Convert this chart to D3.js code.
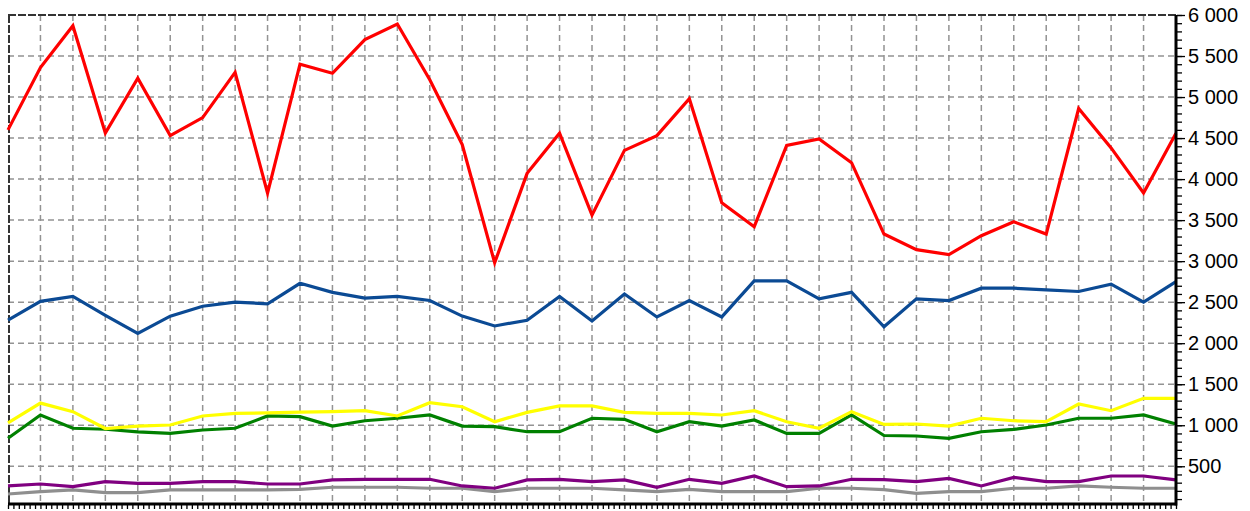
<!DOCTYPE html>
<html>
<head>
<meta charset="utf-8">
<script src="https://cdn.jsdelivr.net/npm/d3@7"></script>
<style>
  body { margin: 0; background: #fff; }
  svg { display: block; }
</style>
</head>
<body>
<div id="chart"></div>
<script>
// values, one point per vertical grid line
var red = [4600, 5360, 5870, 4560, 5230, 4530, 4750, 5300, 3830, 5400, 5290, 5700, 5890, 5210, 4420, 2980,
  4070, 4560, 3560, 4350, 4530, 4980, 3710, 3420, 4410, 4490, 4200, 3330, 3140, 3080, 3310, 3480, 3330,
  4860, 4380, 3830, 4560]
var blue = [2280, 2510, 2570, 2340, 2120, 2330, 2450, 2500, 2480, 2730, 2620, 2550, 2570, 2520, 2330, 2210,
  2280, 2570, 2270, 2600, 2320, 2520, 2320, 2760, 2760, 2540, 2620, 2200, 2540, 2520, 2670, 2670, 2650,
  2630, 2720, 2500, 2750]
var yellow = [1030, 1270, 1165, 960, 990, 1003, 1113, 1145, 1150, 1160, 1165, 1177, 1113, 1275, 1226, 1043,
  1157, 1235, 1235, 1157, 1145, 1145, 1125, 1177, 1043, 963, 1165, 1010, 1015, 990, 1085, 1055, 1043,
  1259, 1177, 1328, 1328]
var green = [841, 1125, 963, 951, 920, 900, 942, 963, 1113, 1105, 990, 1055, 1085, 1125, 990, 982,
  921, 921, 1085, 1072, 921, 1043, 990, 1064, 900, 900, 1125, 875, 869, 841, 921, 950, 1003,
  1085, 1085, 1125, 1015]
var purple = [260, 284, 251, 312, 292, 292, 312, 312, 284, 284, 333, 341, 341, 341, 260, 232,
  333, 341, 312, 333, 244, 341, 292, 381, 251, 260, 341, 337, 312, 353, 260, 365, 312,
  312, 381, 381, 333]
var gray = [162, 190, 211, 178, 178, 211, 211, 211, 211, 219, 244, 244, 244, 232, 232, 190,
  232, 232, 232, 211, 190, 219, 190, 190, 190, 232, 232, 215, 170, 190, 190, 232, 232,
  260, 244, 232, 232]

var seriesList = [
  {name: "gray", values: gray, color: "#8f8f8f"},
  {name: "purple", values: purple, color: "#800080"},
  {name: "green", values: green, color: "#008000"},
  {name: "yellow", values: yellow, color: "#ffff00"},
  {name: "blue", values: blue, color: "#0b4a94"},
  {name: "red", values: red, color: "#ff0000"}
]

var yMajor = [500, 1000, 1500, 2000, 2500, 3000, 3500, 4000, 4500, 5000, 5500, 6000]

var width = 1250, height = 511
// plot box edges (not named top/left: window.top is read only)
var box = {x0: 8, x1: 1176, y0: 15, y1: 504}

var svg = d3.select("#chart").append("svg")
  .attr("width", width)
  .attr("height", height)

var idx = d3.range(red.length)

var x = d3.scalePoint()
  .domain(idx)
  .range([box.x0, box.x1])

var y = d3.scaleLinear()
  .domain([40, 6000])
  .range([box.y1, box.y0])

var fmt = d3.formatLocale({decimal: ",", thousands: " ", grouping: [3], currency: ["", ""]}).format(",")

// grid
var grid = svg.append("g")
grid.selectAll(".vgrid")
  .data(idx.slice(1, -1))
  .enter().append("line")
    .attr("x1", d => x(d)).attr("x2", d => x(d))
    .attr("y1", box.y0).attr("y2", box.y1)
    .attr("stroke", "#939393")
    .attr("stroke-width", 1.5)
    .attr("stroke-dasharray", "6,4")
grid.selectAll(".hgrid")
  .data(yMajor.slice(0, -1))
  .enter().append("line")
    .attr("x1", box.x0).attr("x2", box.x1)
    .attr("y1", d => y(d)).attr("y2", d => y(d))
    .attr("stroke", "#939393")
    .attr("stroke-width", 1.5)
    .attr("stroke-dasharray", "6,4")

// top and left border (dashed)
svg.append("line")
  .attr("x1", box.x0).attr("x2", box.x1).attr("y1", box.y0).attr("y2", box.y0)
  .attr("stroke", "#333").attr("stroke-width", 2).attr("stroke-dasharray", "8,2")
svg.append("line")
  .attr("x1", box.x0 + 1).attr("x2", box.x0 + 1).attr("y1", box.y0).attr("y2", box.y1)
  .attr("stroke", "#333").attr("stroke-width", 2).attr("stroke-dasharray", "8,2")

// lines
var line = d3.line()
  .x((d, i) => x(i))
  .y(d => y(d))

svg.append("g").selectAll("path")
  .data(seriesList)
  .enter().append("path")
    .attr("d", d => line(d.values))
    .attr("fill", "none")
    .attr("stroke", d => d.color)
    .attr("stroke-width", 3.2)
    .attr("stroke-linejoin", "miter")

// bottom axis with minor ticks
var minorX = d3.scaleLinear().domain([0, idx.length - 1]).range([box.x0, box.x1])
var xAxis = svg.append("g")
  .attr("transform", "translate(0," + (box.y1 + 1) + ")")
  .call(d3.axisBottom(minorX).tickValues(d3.range(0, (idx.length - 1) * 6 + 1).map(d => d / 6)).tickSize(4).tickFormat(""))
xAxis.select(".domain").remove()
xAxis.selectAll("line").attr("stroke", "#000").attr("stroke-width", 1.3)
svg.append("line")
  .attr("x1", box.x0).attr("x2", box.x1 + 1).attr("y1", box.y1).attr("y2", box.y1)
  .attr("stroke", "#000").attr("stroke-width", 3)

// right axis
var yMinor = svg.append("g")
  .attr("transform", "translate(" + (box.x1 + 1) + ",0)")
  .call(d3.axisRight(y).tickValues(d3.range(100, 6001, 100)).tickSize(5).tickFormat(""))
yMinor.select(".domain").remove()
yMinor.selectAll("line").attr("stroke", "#000").attr("stroke-width", 1.3)

var yAxis = svg.append("g")
  .attr("transform", "translate(" + (box.x1 + 1) + ",0)")
  .call(d3.axisRight(y).tickValues(yMajor).tickSize(8).tickPadding(3).tickFormat(fmt))
yAxis.select(".domain").remove()
yAxis.selectAll("line").attr("stroke", "#000").attr("stroke-width", 1.3)
yAxis.selectAll("text")
  .attr("fill", "#000")
  .style("font-family", "'Liberation Sans', Arial, sans-serif")
  .style("font-size", "20px")

svg.append("line")
  .attr("x1", box.x1).attr("x2", box.x1).attr("y1", box.y0).attr("y2", box.y1 + 1.5)
  .attr("stroke", "#000").attr("stroke-width", 3)
</script>
</body>
</html>
